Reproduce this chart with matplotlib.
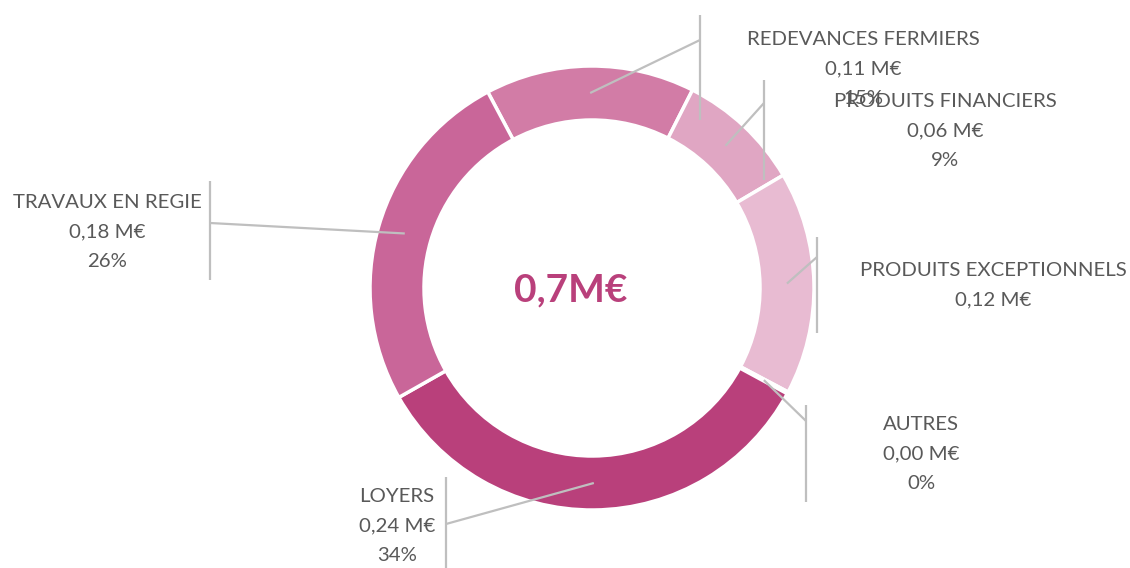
import numpy as np
import matplotlib
matplotlib.use("Agg")
import matplotlib.pyplot as plt

plt.rcParams['font.family'] = ['Lato', 'DejaVu Sans']

# data, clockwise from the top-left
categories = ["REDEVANCES FERMIERS", "PRODUITS FINANCIERS", "PRODUITS EXCEPTIONNELS",
              "AUTRES", "LOYERS", "TRAVAUX EN REGIE"]
values = [0.108, 0.064, 0.115, 0.001, 0.240, 0.180]
value_labels = ["0,11 M€", "0,06 M€", "0,12 M€", "0,00 M€", "0,24 M€", "0,18 M€"]
pct_labels = ["15%", "9%", None, "0%", "34%", "26%"]
colors = ["#D27CA6", "#E0A6C3", "#E8BBD2", "#E0A6C3", "#B9407B", "#C96699"]
total_label = "0,7M€"

W, H = 1130, 568
fig = plt.figure(figsize=(W / 100, H / 100), dpi=100)
ax = fig.add_axes([0, 0, 1, 1])

cx, cy = 592, H - 288
R = 222
ring = 54
start = 118

wedges, _ = ax.pie(values, colors=colors, startangle=start, counterclock=False,
                   center=(cx, cy), radius=R, frame=True,
                   wedgeprops=dict(width=ring, edgecolor='white', linewidth=2.5))
ax.set_xlim(0, W)
ax.set_ylim(0, H)
ax.set_aspect('equal')
ax.axis('off')

ax.text(571, H - 290, total_label, ha='center', va='center', fontsize=28,
        fontweight='bold', color='#B9407B')

# label layout in pixels from the top: bar x, bar top, bar bottom, line end y, text x, text centre y
layout = [
    (700, 15, 120, 40, 863, 69),
    (764, 80, 180, 103, 945, 131),
    (817, 237, 333, 257, 993, 285),
    (806, 405, 502, 421, 921, 454),
    (446, 477, 568, 524, 397, 526),
    (210, 181, 280, 223, 107, 232),
]

line_col = '#BFBFBF'
text_col = '#595959'
rmid = R - ring / 2
for w, (bx, bt, bb, ey, tx, ty), name, val, pct in zip(wedges, layout, categories,
                                                         value_labels, pct_labels):
    ang = np.deg2rad((w.theta1 + w.theta2) / 2)
    sx = cx + rmid * np.cos(ang)
    sy = cy + rmid * np.sin(ang)
    ax.plot([sx, bx], [sy, H - ey], color=line_col, lw=1.6, solid_capstyle='butt')
    ax.plot([bx, bx], [H - bt, H - bb], color=line_col, lw=1.6, solid_capstyle='butt')
    lines = [name, val] + ([pct] if pct else [])
    n = len(lines)
    for i, s in enumerate(lines):
        y = ty + (i - (n - 1) / 2) * 29.5
        ax.text(tx, H - y, s, ha='center', va='center', fontsize=14.7, color=text_col)

fig.savefig("out.png", dpi=100)
